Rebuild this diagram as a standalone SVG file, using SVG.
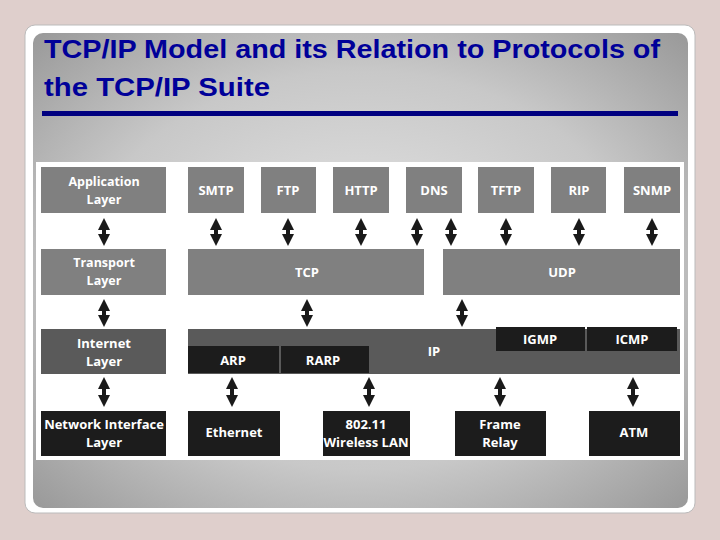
<svg xmlns="http://www.w3.org/2000/svg" width="720" height="540" viewBox="0 0 720 540">
<defs>
<radialGradient id="bg" cx="0.5" cy="0.5" r="0.7">
<stop offset="0" stop-color="#e6e6e6"/><stop offset="0.6" stop-color="#c8c8c8"/><stop offset="1" stop-color="#9a9a9a"/>
</radialGradient>
<marker id="ah" viewBox="0 0 10 10" refX="5" refY="5" markerWidth="3.4" markerHeight="3" orient="auto-start-reverse" markerUnits="strokeWidth">
<path d="M0,0 L10,5 L0,10 z" fill="#1a1a1a"/>
</marker>
<style>
.g{fill:#808080}.d{fill:#5a5a5a}.b{fill:#1c1c1c}
text{font-family:"Open Sans","Liberation Sans",sans-serif;font-weight:bold;fill:#fff;font-size:13px;text-anchor:middle}
.s{font-size:12.5px}
.t{font-family:"Liberation Sans",sans-serif;font-weight:bold;fill:#000099;font-size:25px;text-anchor:start}
.a{stroke:#1a1a1a;stroke-width:4;marker-start:url(#ah);marker-end:url(#ah)}
</style>
</defs>
<rect width="720" height="540" fill="#dfcfcc"/>
<rect x="25" y="25" width="670" height="488" rx="10" fill="#fff" stroke="#bbb"/>
<rect x="33" y="33" width="655" height="475" rx="10" fill="url(#bg)"/>
<text class="t" x="44" y="58" textLength="616" lengthAdjust="spacingAndGlyphs">TCP/IP Model and its Relation to Protocols of</text>
<text class="t" x="44" y="96" textLength="226" lengthAdjust="spacingAndGlyphs">the TCP/IP Suite</text>
<rect x="42" y="111" width="636" height="5" fill="#000080"/>
<rect x="36" y="162" width="648" height="298" fill="#fff"/>
<g id="app"><rect class="g" x="41" y="167" width="125" height="46"/><text class="s" x="104" y="186">Application</text><text class="s" x="104" y="204">Layer</text></g>
<g id="smtp"><rect class="g" x="188" y="167" width="56" height="46"/><text x="216" y="195">SMTP</text></g>
<g id="ftp"><rect class="g" x="261" y="167" width="55" height="46"/><text x="288" y="195">FTP</text></g>
<g id="http"><rect class="g" x="333" y="167" width="56" height="46"/><text x="361" y="195">HTTP</text></g>
<g id="dns"><rect class="g" x="406" y="167" width="56" height="46"/><text x="434" y="195">DNS</text></g>
<g id="tftp"><rect class="g" x="478" y="167" width="56" height="46"/><text x="506" y="195">TFTP</text></g>
<g id="rip"><rect class="g" x="551" y="167" width="55" height="46"/><text x="579" y="195">RIP</text></g>
<g id="snmp"><rect class="g" x="624" y="167" width="56" height="46"/><text x="652" y="195">SNMP</text></g>
<g id="transport"><rect class="g" x="41" y="249" width="125" height="46"/><text class="s" x="104" y="267">Transport</text><text class="s" x="104" y="285">Layer</text></g>
<g id="tcp"><rect class="g" x="188" y="249" width="236" height="46"/><text x="307" y="277">TCP</text></g>
<g id="udp"><rect class="g" x="443" y="249" width="237" height="46"/><text x="562" y="277">UDP</text></g>
<g id="internet"><rect class="d" x="41" y="329" width="125" height="45"/><text x="104" y="348">Internet</text><text x="104" y="366">Layer</text></g>
<g id="ip"><rect class="d" x="188" y="329" width="492" height="45"/><text x="434" y="356">IP</text></g>
<g id="arp"><rect class="b" x="188" y="346" width="91" height="27"/><text x="233" y="365">ARP</text></g>
<g id="rarp"><rect class="b" x="281" y="346" width="88" height="27"/><text x="323" y="365">RARP</text></g>
<g id="igmp"><rect class="b" x="496" y="327" width="89" height="24"/><text x="540" y="344">IGMP</text></g>
<g id="icmp"><rect class="b" x="587" y="327" width="90" height="24"/><text x="632" y="344">ICMP</text></g>
<g id="ni"><rect class="b" x="41" y="411" width="125" height="45"/><text x="104" y="429">Network Interface</text><text x="104" y="447">Layer</text></g>
<g id="eth"><rect class="b" x="188" y="411" width="92" height="45"/><text x="234" y="437">Ethernet</text></g>
<g id="wlan"><rect class="b" x="323" y="411" width="87" height="45"/><text x="366" y="429">802.11</text><text x="366" y="447">Wireless LAN</text></g>
<g id="fr"><rect class="b" x="455" y="411" width="91" height="45"/><text x="500" y="429">Frame</text><text x="500" y="447">Relay</text></g>
<g id="atm"><rect class="b" x="589" y="411" width="91" height="45"/><text x="634" y="437">ATM</text></g>
<g id="connectors">
<line class="a" x1="104" y1="224" x2="104" y2="240"/>
<line class="a" x1="216" y1="224" x2="216" y2="240"/>
<line class="a" x1="288" y1="224" x2="288" y2="240"/>
<line class="a" x1="361" y1="224" x2="361" y2="240"/>
<line class="a" x1="417" y1="224" x2="417" y2="240"/>
<line class="a" x1="451" y1="224" x2="451" y2="240"/>
<line class="a" x1="506" y1="224" x2="506" y2="240"/>
<line class="a" x1="579" y1="224" x2="579" y2="240"/>
<line class="a" x1="652" y1="224" x2="652" y2="240"/>
<line class="a" x1="104" y1="305" x2="104" y2="321"/>
<line class="a" x1="307" y1="305" x2="307" y2="321"/>
<line class="a" x1="462" y1="305" x2="462" y2="321"/>
<line class="a" x1="104" y1="383" x2="104" y2="401"/>
<line class="a" x1="232" y1="383" x2="232" y2="401"/>
<line class="a" x1="369" y1="383" x2="369" y2="401"/>
<line class="a" x1="500" y1="383" x2="500" y2="401"/>
<line class="a" x1="633" y1="383" x2="633" y2="401"/>
</g>
</svg>
